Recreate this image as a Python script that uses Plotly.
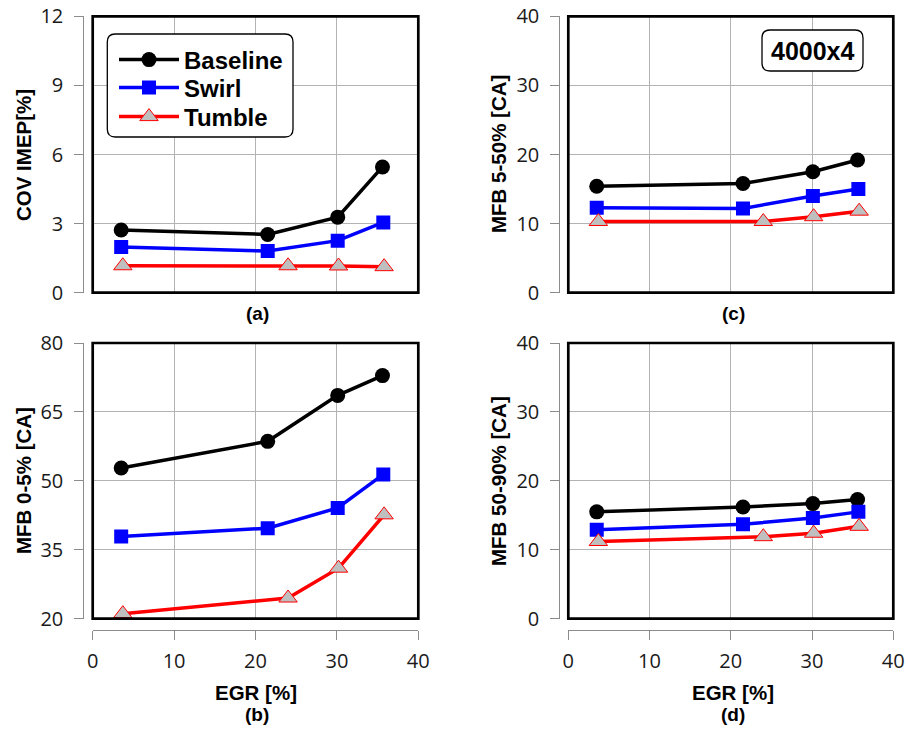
import plotly.graph_objects as go

W, H = 908, 736

series_names = ["Baseline", "Swirl", "Tumble"]

# EGR [%] x-values per series
egr_baseline = [3.5, 21.5, 30.1, 35.6]
egr_swirl = [3.5, 21.5, 30.1, 35.7]
egr_tumble = [3.7, 24.0, 30.2, 35.8]

# (a) COV IMEP [%]
cov_baseline = [2.72, 2.53, 3.28, 5.46]
cov_swirl = [1.98, 1.81, 2.26, 3.05]
cov_tumble = [1.17, 1.17, 1.16, 1.13]

# (b) MFB 0-5% [CA]
mfb05_baseline = [52.8, 58.6, 68.6, 72.9]
mfb05_swirl = [37.9, 39.7, 44.1, 51.4]
mfb05_tumble = [21.1, 24.5, 31.0, 42.6]

# (c) MFB 5-50% [CA]
mfb550_baseline = [15.4, 15.8, 17.5, 19.2]
mfb550_swirl = [12.3, 12.2, 14.0, 15.0]
mfb550_tumble = [10.3, 10.3, 11.0, 11.8]

# (d) MFB 50-90% [CA]
mfb5090_baseline = [15.5, 16.2, 16.7, 17.3]
mfb5090_swirl = [12.9, 13.7, 14.6, 15.5]
mfb5090_tumble = [11.2, 11.9, 12.4, 13.4]

x_ticks = [0, 10, 20, 30, 40]
ticks_a = [0, 3, 6, 9, 12]
ticks_b = [20, 35, 50, 65, 80]
ticks_cd = [0, 10, 20, 30, 40]

ytitles = {"a": "COV IMEP[%]", "b": "MFB 0-5% [CA]", "c": "MFB 5-50% [CA]", "d": "MFB 50-90% [CA]"}
xtitle = "EGR [%]"
panel_labels = ["(a)", "(b)", "(c)", "(d)"]
box_text = "4000x4"

def px(x):
    return x / W

def py(y):
    return 1 - y / H

styles = [
    dict(line=dict(color="black", width=3.5), marker=dict(symbol="circle", size=15, color="black")),
    dict(line=dict(color="#0000ff", width=3.5), marker=dict(symbol="square", size=14, color="#0000ff")),
    dict(line=dict(color="#ff0000", width=3.5), marker=dict(symbol="triangle-up", size=16, color="#bfbfbf",
                                                            line=dict(color="#ff0000", width=1))),
]

panels = [
    ("a", "x", "y", [egr_baseline, egr_swirl, egr_tumble], [cov_baseline, cov_swirl, cov_tumble]),
    ("b", "x2", "y2", [egr_baseline, egr_swirl, egr_tumble], [mfb05_baseline, mfb05_swirl, mfb05_tumble]),
    ("c", "x3", "y3", [egr_baseline, egr_swirl, egr_tumble], [mfb550_baseline, mfb550_swirl, mfb550_tumble]),
    ("d", "x4", "y4", [egr_baseline, egr_swirl, egr_tumble], [mfb5090_baseline, mfb5090_swirl, mfb5090_tumble]),
]
legend_ids = ["legend", "legend2", "legend3"]

fig = go.Figure()
for key, xa, ya, xs, ys in panels:
    for i, name in enumerate(series_names):
        fig.add_trace(go.Scatter(
            x=xs[i], y=ys[i], mode="lines+markers", name=name,
            xaxis=xa, yaxis=ya, showlegend=(key == "a"), legend=legend_ids[i],
            line=styles[i]["line"], marker=styles[i]["marker"],
        ))

left_dom = [px(92.7), px(418.3)]
right_dom = [px(568.3), px(893.3)]
top_dom = [py(292.7), py(16.3)]
bot_dom = [py(618.7), py(343.0)]

tick_font = dict(family="Open Sans, Noto Sans, sans-serif", size=20, color="#1a1a1a")
grid_color = "#b3b3b3"
spine_color = "#8c8c8c"

def xaxis_cfg(domain, anchor, show_labels):
    cfg = dict(domain=domain, range=[0, 40], tickvals=x_ticks, showgrid=True, gridcolor=grid_color,
               gridwidth=1, zeroline=False, fixedrange=True, automargin=False)
    if show_labels:
        cfg.update(anchor="free", position=py(629.5), showline=True, linecolor=spine_color, linewidth=1,
                   ticks="outside", ticklen=9, tickcolor=spine_color, tickfont=tick_font,
                   showticklabels=True, ticklabelstandoff=4)
    else:
        cfg.update(anchor=anchor, showticklabels=False, ticks="", showline=False)
    return cfg

def yaxis_cfg(domain, rng, tv, pos):
    return dict(domain=domain, range=rng, tickvals=tv, anchor="free", position=pos,
                showline=True, linecolor=spine_color, linewidth=1, ticks="outside", ticklen=9,
                tickcolor=spine_color, tickfont=tick_font, showgrid=True, gridcolor=grid_color,
                gridwidth=1, zeroline=False, ticklabelstandoff=7, fixedrange=True, automargin=False)

fig.update_layout(
    xaxis=xaxis_cfg(left_dom, "y", False),
    yaxis=yaxis_cfg(top_dom, [0, 12], ticks_a, px(83.3)),
    xaxis2=xaxis_cfg(left_dom, "y2", True),
    yaxis2=yaxis_cfg(bot_dom, [20, 80], ticks_b, px(83.3)),
    xaxis3=xaxis_cfg(right_dom, "y3", False),
    yaxis3=yaxis_cfg(top_dom, [0, 40], ticks_cd, px(559.3)),
    xaxis4=xaxis_cfg(right_dom, "y4", True),
    yaxis4=yaxis_cfg(bot_dom, [0, 40], ticks_cd, px(559.3)),
)

shapes = []
for xd, yd in [("x", "y"), ("x2", "y2"), ("x3", "y3"), ("x4", "y4")]:
    shapes.append(dict(type="rect", xref=f"{xd} domain", yref=f"{yd} domain", x0=0, x1=1, y0=0, y1=1,
                       line=dict(color="black", width=2.7), fillcolor="rgba(0,0,0,0)", layer="above"))

def rounded_rect(x0, y0, x1, y1, r):
    X0, X1 = px(x0), px(x1)
    Y0, Y1 = py(y0), py(y1)
    rx, ry = r / W, r / H
    return (f"M {X0+rx},{Y0} L {X1-rx},{Y0} Q {X1},{Y0} {X1},{Y0-ry} "
            f"L {X1},{Y1+ry} Q {X1},{Y1} {X1-rx},{Y1} L {X0+rx},{Y1} Q {X0},{Y1} {X0},{Y1+ry} "
            f"L {X0},{Y0-ry} Q {X0},{Y0} {X0+rx},{Y0} Z")

shapes.append(dict(type="path", xref="paper", yref="paper", path=rounded_rect(107.3, 34, 293, 137, 8),
                   line=dict(color="black", width=1.3), fillcolor="white", layer="above"))
shapes.append(dict(type="path", xref="paper", yref="paper", path=rounded_rect(762, 30, 863, 71, 8),
                   line=dict(color="black", width=1.3), fillcolor="white", layer="above"))
fig.update_layout(shapes=shapes)

title_font = dict(family="Liberation Sans, Arial, sans-serif", size=20.5, color="black")
ann = []
for key, xc, yc in [("a", 23, 155), ("b", 23, 481), ("c", 498, 154), ("d", 498, 481)]:
    ann.append(dict(text=f"<b>{ytitles[key]}</b>", x=px(xc), y=py(yc), xref="paper", yref="paper",
                    textangle=-90, showarrow=False, font=title_font, xanchor="center", yanchor="middle"))
for xc in [256, 733]:
    ann.append(dict(text=f"<b>{xtitle}</b>", x=px(xc), y=py(692), xref="paper", yref="paper",
                    showarrow=False, font=title_font, xanchor="center", yanchor="middle"))
for lab, xc, yc in [("(a)", 257, 314), ("(b)", 257, 714), ("(c)", 733, 314), ("(d)", 733, 714)]:
    ann.append(dict(text=f"<b>{lab}</b>", x=px(xc), y=py(yc), xref="paper", yref="paper",
                    showarrow=False, font=dict(family="Liberation Sans, Arial, sans-serif", size=19, color="black"),
                    xanchor="center", yanchor="middle"))
ann.append(dict(text=f"<b>{box_text}</b>", x=px(812.5), y=py(51), xref="paper", yref="paper",
                showarrow=False, font=dict(family="Liberation Sans, Arial, sans-serif", size=25, color="black"),
                xanchor="center", yanchor="middle"))
fig.update_layout(annotations=ann)

legend_font = dict(family="Liberation Sans, Arial, sans-serif", size=24, color="black", weight="bold")
legend_rows = [60, 88, 117]
leg = {}
for lid, row in zip(legend_ids, legend_rows):
    leg[lid] = dict(x=px(114), y=py(row), xanchor="left", yanchor="middle", bgcolor="rgba(0,0,0,0)",
                    borderwidth=0, itemwidth=60, font=legend_font,
                    itemclick=False, itemdoubleclick=False)

fig.update_layout(
    width=W, height=H,
    margin=dict(l=0, r=0, t=0, b=0, pad=0, autoexpand=False),
    paper_bgcolor="white", plot_bgcolor="white",
    showlegend=True, hovermode=False,
    **leg,
)

fig.write_html("out.html",
               config={"displayModeBar": False},
               post_script="document.body.style.margin='0';document.body.style.padding='0';"
                           "document.documentElement.style.overflow='hidden';")
